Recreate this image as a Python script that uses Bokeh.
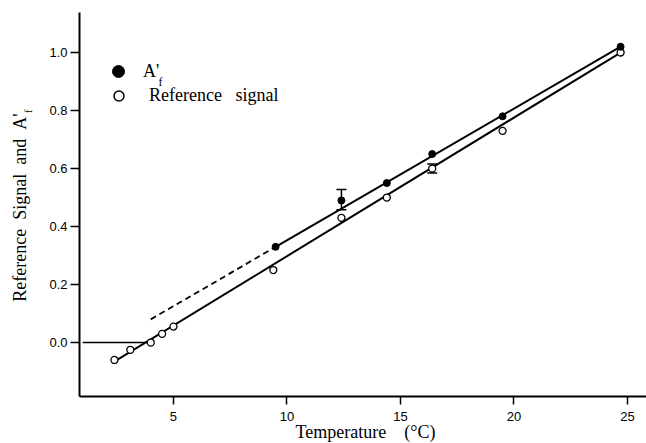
import math
from bokeh.plotting import figure
from bokeh.models import (ColumnDataSource, Legend, LegendItem, Label, Whisker,
                          TeeHead, Range1d, FixedTicker, PrintfTickFormatter, Title)
from bokeh.embed import file_html
from bokeh.resources import INLINE

# ---- data ----
ref_temp = [2.4, 3.1, 4.0, 4.5, 5.0, 9.4, 12.4, 14.4, 16.4, 19.5, 24.7]
ref_signal = [-0.06, -0.025, 0.0, 0.03, 0.055, 0.25, 0.43, 0.50, 0.60, 0.73, 1.00]

af_temp = [9.5, 12.4, 14.4, 16.4, 19.5, 24.7]
af_value = [0.33, 0.49, 0.55, 0.65, 0.78, 1.02]

af_err_temp = [12.4]
af_err_hi = [0.528]
af_err_lo = [0.458]

ref_err_temp = [16.4]
ref_err_hi = [0.616]
ref_err_lo = [0.585]

ref_fit_x = [2.3, 24.7]
ref_fit_y = [-0.07, 1.00]
af_fit_x = [9.5, 24.7]
af_fit_y = [0.33, 1.02]
af_extrap_x = [4.0, 9.5]
af_extrap_y = [0.08, 0.33]
base_x = [1.0, 3.9]
base_y = [0.0, 0.0]

x_ticks = [5, 10, 15, 20, 25]
y_ticks = [0.0, 0.2, 0.4, 0.6, 0.8, 1.0]

SERIF = "Liberation Serif"
SANS = "Liberation Sans"
NB = "\u00a0"
NAN = float("nan")

p = figure(width=646, height=443, output_backend="svg", toolbar_location=None,
           x_range=Range1d(0.86, 25.84), y_range=Range1d(-0.186, 1.138),
           min_border_left=79, min_border_right=0, min_border_top=12,
           min_border_bottom=47)
p.grid.visible = False
p.outline_line_color = None

for ax, tk, out in ((p.xaxis, x_ticks, 8), (p.yaxis, y_ticks, 9)):
    ax.ticker = FixedTicker(ticks=tk)
    ax.axis_line_width = 2
    ax.axis_line_color = "black"
    ax.major_tick_out = out
    ax.major_tick_in = 0
    ax.major_tick_line_width = 1.5
    ax.minor_tick_out = 0
    ax.minor_tick_in = 0
    ax.major_label_text_font = SANS
    ax.major_label_text_font_size = "13px"
    ax.major_label_text_color = "black"
p.yaxis.formatter = PrintfTickFormatter(format="%.1f")
p.yaxis.major_label_standoff = 3
p.xaxis.major_label_standoff = 7

# lines
p.line(base_x, base_y, line_color="black", line_width=1.6)
p.line(ref_fit_x, ref_fit_y, line_color="black", line_width=2)
p.line(af_fit_x, af_fit_y, line_color="black", line_width=2)
p.line(af_extrap_x, af_extrap_y, line_color="black", line_width=1.8, line_dash="6 4")

# error bars
src_af_err = ColumnDataSource(dict(x=af_err_temp, hi=af_err_hi, lo=af_err_lo))
src_ref_err = ColumnDataSource(dict(x=ref_err_temp, hi=ref_err_hi, lo=ref_err_lo))
for s in (src_af_err, src_ref_err):
    w = Whisker(base="x", upper="hi", lower="lo", source=s, dimension="height",
                line_color="black", line_width=1.5,
                upper_head=TeeHead(size=10, line_color="black", line_width=1.5),
                lower_head=TeeHead(size=10, line_color="black", line_width=1.5))
    p.add_layout(w)

# points
p.scatter(ref_temp, ref_signal, marker="circle", size=7, fill_color="white",
          line_color="black", line_width=1.3)
p.scatter(af_temp, af_value, marker="circle", size=7, fill_color="black",
          line_color="black")

# legend (legend-only renderers; marker size follows the glyph box)
dummy_f = p.scatter(x=[NAN], y=[NAN], marker="circle", fill_color="black",
                    line_color="black")
dummy_o = p.scatter(x=[NAN], y=[NAN], marker="circle", fill_color="white",
                    line_color="black", line_width=1.5)
common = dict(orientation="vertical", border_line_color=None,
              background_fill_alpha=0, padding=0, margin=0, spacing=0,
              label_text_font=SERIF, label_text_font_size="18px",
              label_text_color="black")
legend_f = Legend(items=[LegendItem(label="A'", renderers=[dummy_f])],
                  location=(24, 310), glyph_width=30, glyph_height=30,
                  label_height=30, label_standoff=10, **common)
legend_o = Legend(items=[LegendItem(label="Reference" + NB * 3 + "signal", renderers=[dummy_o])],
                  location=(27, 288), glyph_width=25, glyph_height=25,
                  label_height=25, label_standoff=18, **common)
p.add_layout(legend_f)
p.add_layout(legend_o)
p.add_layout(Label(x=79, y=315, x_units="screen", y_units="screen", text="f",
                   text_font=SERIF, text_font_size="12px", text_color="black",
                   text_baseline="alphabetic"))

# axis titles (side-panel titles so the subscript can be drawn)
p.add_layout(Title(text="Temperature" + NB * 4 + "(°C)", align="left", offset=216,
                   text_font=SERIF, text_font_size="18px", text_font_style="normal",
                   text_color="black", standoff=-4, vertical_align="top"), "below")
p.add_layout(Title(text="f", align="right", offset=97,
                   text_font=SERIF, text_font_size="11px", text_font_style="normal",
                   text_color="black", standoff=21, vertical_align="top"), "left")
p.add_layout(Title(text="Reference" + NB * 2 + "Signal" + NB * 2 + "and" + NB * 2 + "A'",
                   align="right", offset=101,
                   text_font=SERIF, text_font_size="18px", text_font_style="normal",
                   text_color="black", standoff=-36, vertical_align="bottom"), "left")

open("out.html", "w").write(file_html(p, INLINE))
